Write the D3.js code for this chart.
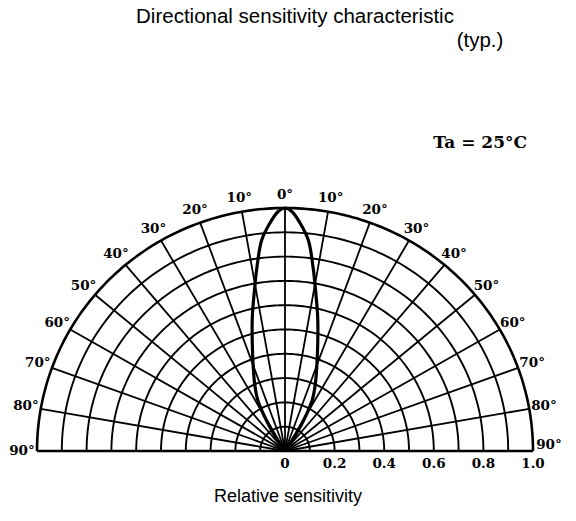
<!DOCTYPE html>
<html><head><meta charset="utf-8">
<script src="https://cdn.jsdelivr.net/npm/d3@7"></script>
<style>body{margin:0;background:#fff}</style>
</head><body>
<svg id="chart" width="576" height="521"></svg>
<script>
// Data
const angleTicks = [-90,-80,-70,-60,-50,-40,-30,-20,-10,0,10,20,30,40,50,60,70,80,90];
const angleLabels = ["90°","80°","70°","60°","50°","40°","30°","20°","10°","0°","10°","20°","30°","40°","50°","60°","70°","80°","90°"];
const ringValues = [0.1,0.2,0.3,0.4,0.5,0.6,0.7,0.8,0.9,1.0];
const radiusTicks = [0,0.2,0.4,0.6,0.8,1.0];
const radiusLabels = ["0","0.2","0.4","0.6","0.8","1.0"];
// measured lobe (one side, symmetric)
const lobeAngles = [0,1.6,3.7,6.2,8.5,10.5,13.5,16.5,20.5,24,27.5,30,33,36];
const lobeValues = [1.0,0.986,0.94,0.872,0.765,0.675,0.565,0.465,0.365,0.3,0.24,0.17,0.08,0];

const svg = d3.select("#chart");
const cx = 285, cy = 451;
const rx = d3.scaleLinear().domain([0,1]).range([0,248]);
const ry = d3.scaleLinear().domain([0,1]).range([0,243]);
const rad = d => d*Math.PI/180;
const px = (a,r) => cx + rx(r)*Math.sin(rad(a));
const py = (a,r) => cy - ry(r)*Math.cos(rad(a));

const g = svg.append("g");
const arcLine = d3.line().x(d=>px(d[0],d[1])).y(d=>py(d[0],d[1]));
const steps = d3.range(-90,90.5,1);

// rings
g.selectAll("path.ring").data(ringValues).join("path")
  .attr("class","ring")
  .attr("d", v => arcLine(steps.map(a=>[a,v])))
  .attr("fill","none").attr("stroke","#000")
  .attr("stroke-width", v => v===1 ? 2.6 : 1.9);

// radial lines
g.selectAll("line.spoke").data(angleTicks).join("line")
  .attr("class","spoke")
  .attr("x1",cx).attr("y1",cy)
  .attr("x2",a=>px(a,1)).attr("y2",a=>py(a,1))
  .attr("stroke","#000").attr("stroke-width",a=>Math.abs(a)===90?2.6:1.8);

// lobe
const lobe = [];
for (let i=lobeAngles.length-1;i>=0;i--) lobe.push([-lobeAngles[i], lobeValues[i]]);
for (let i=1;i<lobeAngles.length;i++) lobe.push([lobeAngles[i], lobeValues[i]]);
g.append("path")
  .attr("d", d3.line().x(d=>px(d[0],d[1])).y(d=>py(d[0],d[1])).curve(d3.curveCatmullRom)(lobe))
  .attr("fill","none").attr("stroke","#000").attr("stroke-width",3.2).attr("stroke-linejoin","round");

// angle labels
const serif = "'DejaVu Serif','Liberation Serif',serif";
g.selectAll("text.ang").data(angleTicks).join("text")
  .attr("class","ang")
  .attr("x",a=> a===90 ? px(a,1)+16 : cx + (rx(1)+15)*Math.sin(rad(a)))
  .attr("y",a=> a===90 ? cy-6 : cy - (ry(1)+13)*Math.cos(rad(a)))
  .attr("text-anchor","middle").attr("dominant-baseline","middle")
  .attr("font-family",serif).attr("font-weight","bold").attr("font-size",13.5)
  .text((a,i)=>angleLabels[i]);

// radius labels
g.selectAll("text.rl").data(radiusTicks).join("text")
  .attr("class","rl")
  .attr("x",v=>cx+rx(v)).attr("y",cy+17)
  .attr("text-anchor","middle")
  .attr("font-family",serif).attr("font-weight","bold").attr("font-size",13.5)
  .text((v,i)=>radiusLabels[i]);

const sans = "'Liberation Sans',Arial,sans-serif";
svg.append("text").attr("x",295).attr("y",23).attr("text-anchor","middle")
  .attr("font-family",sans).attr("font-size",20.5).text("Directional sensitivity characteristic");
svg.append("text").attr("x",480).attr("y",47).attr("text-anchor","middle")
  .attr("font-family",sans).attr("font-size",20.5).text("(typ.)");
svg.append("text").attr("x",527).attr("y",148).attr("text-anchor","end")
  .attr("font-family",serif).attr("font-weight","bold").attr("font-size",17).text("Ta = 25°C");
svg.append("text").attr("x",288).attr("y",502).attr("text-anchor","middle")
  .attr("font-family",sans).attr("font-size",18).text("Relative sensitivity");
</script>
</body></html>
